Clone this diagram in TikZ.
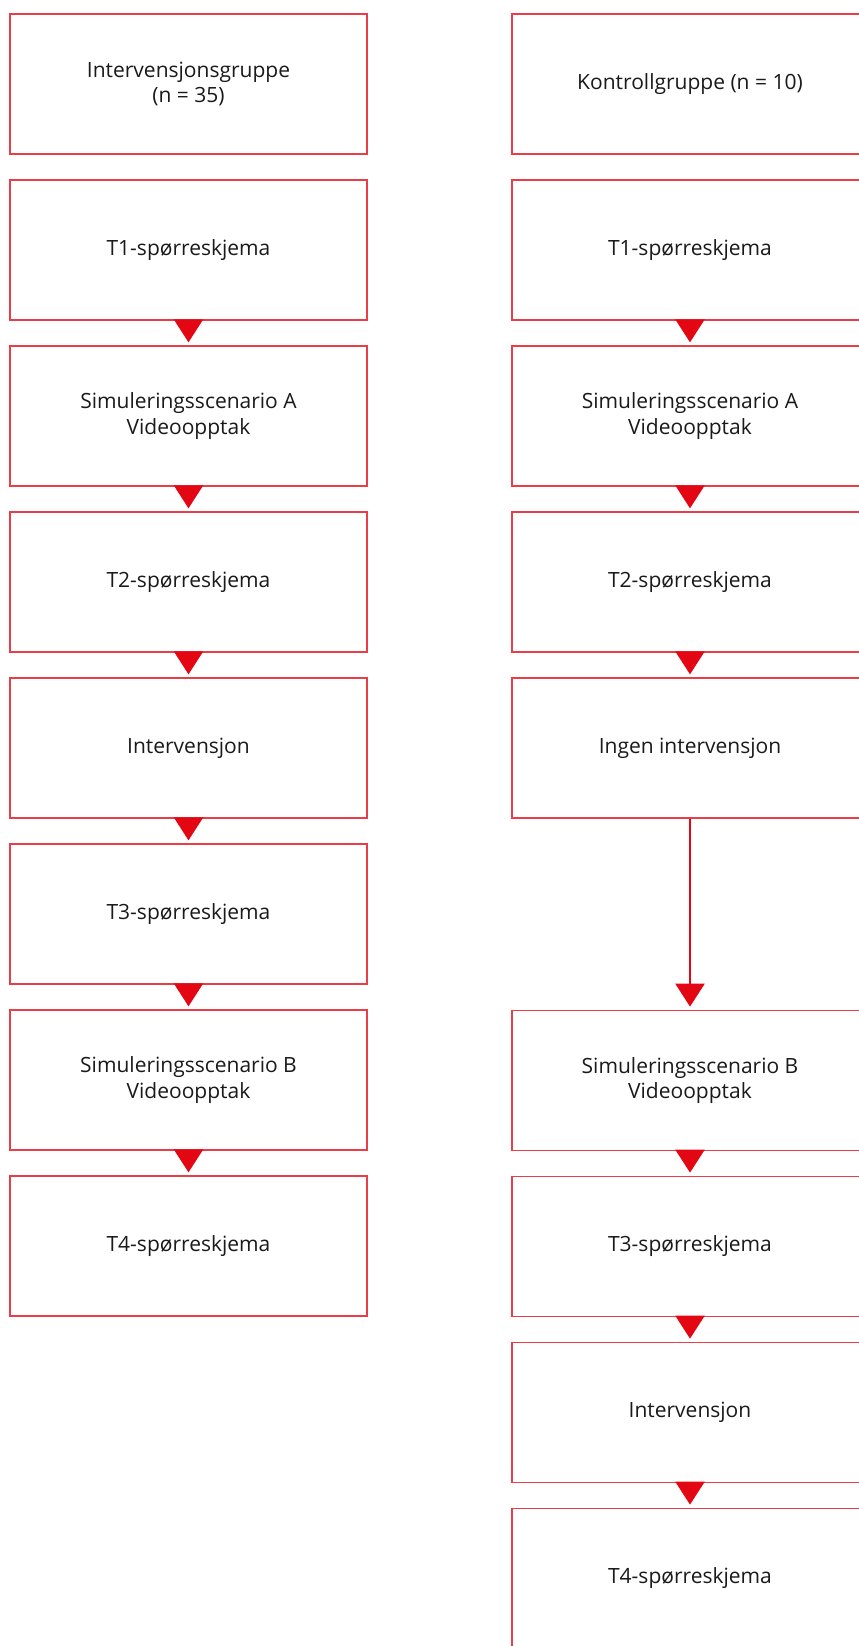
\documentclass[tikz,border=0pt]{standalone}
\usepackage{fontspec}
\setmainfont{Open Sans}
\usetikzlibrary{arrows.meta,positioning}
\definecolor{signal}{HTML}{E30613}
\definecolor{ink}{HTML}{1A1A1A}
\tikzset{
  box/.style={draw=signal!78,line width=1.3pt,fill=white,minimum width=#1,
    minimum height=140pt,align=center,text=ink,inner sep=4pt},
  box/.default=357pt,
  arr/.style={-{Triangle[length=23pt,width=29pt]},line width=2.2pt,draw=signal,
    shorten >=3pt},
}

\begin{document}
\begin{tikzpicture}[x=1pt,y=1pt,font=\fontsize{21}{25.5}\selectfont,node distance=24.7pt]
    \clip (0,0) rectangle (859,-1646);

    % intervention group
    \node[box] (ig) at (188.5,-84) {Intervensjonsgruppe\\(n = 35)};
    \node[box,below=of ig] (it1) {T1-spørreskjema};
    \node[box,below=of it1] (isa) {Simuleringsscenario A\\Videoopptak};
    \node[box,below=of isa] (it2) {T2-spørreskjema};
    \node[box,below=of it2] (iint) {Intervensjon};
    \node[box,below=of iint] (it3) {T3-spørreskjema};
    \node[box,below=of it3] (isb) {Simuleringsscenario B\\Videoopptak};
    \node[box,below=of isb] (it4) {T4-spørreskjema};

    % control group
    \node[box=356pt] (kg) at (690,-84) {Kontrollgruppe (n = 10)};
    \node[box=356pt,below=of kg] (kt1) {T1-spørreskjema};
    \node[box=356pt,below=of kt1] (ksa) {Simuleringsscenario A\\Videoopptak};
    \node[box=356pt,below=of ksa] (kt2) {T2-spørreskjema};
    \node[box=356pt,below=of kt2] (kno) {Ingen intervensjon};
    \node[box=356pt,below=191pt of kno] (ksb) {Simuleringsscenario B\\Videoopptak};
    \node[box=356pt,below=of ksb] (kt3) {T3-spørreskjema};
    \node[box=356pt,below=of kt3] (kint) {Intervensjon};
    \node[box=356pt,below=of kint] (kt4) {T4-spørreskjema};

    \draw[arr] (it1) -- (isa);
    \draw[arr] (isa) -- (it2);
    \draw[arr] (it2) -- (iint);
    \draw[arr] (iint) -- (it3);
    \draw[arr] (it3) -- (isb);
    \draw[arr] (isb) -- (it4);

    \draw[arr] (kt1) -- (ksa);
    \draw[arr] (ksa) -- (kt2);
    \draw[arr] (kt2) -- (kno);
    \draw[arr] (kno) -- (ksb);
    \draw[arr] (ksb) -- (kt3);
    \draw[arr] (kt3) -- (kint);
    \draw[arr] (kint) -- (kt4);
\end{tikzpicture}
\end{document}
